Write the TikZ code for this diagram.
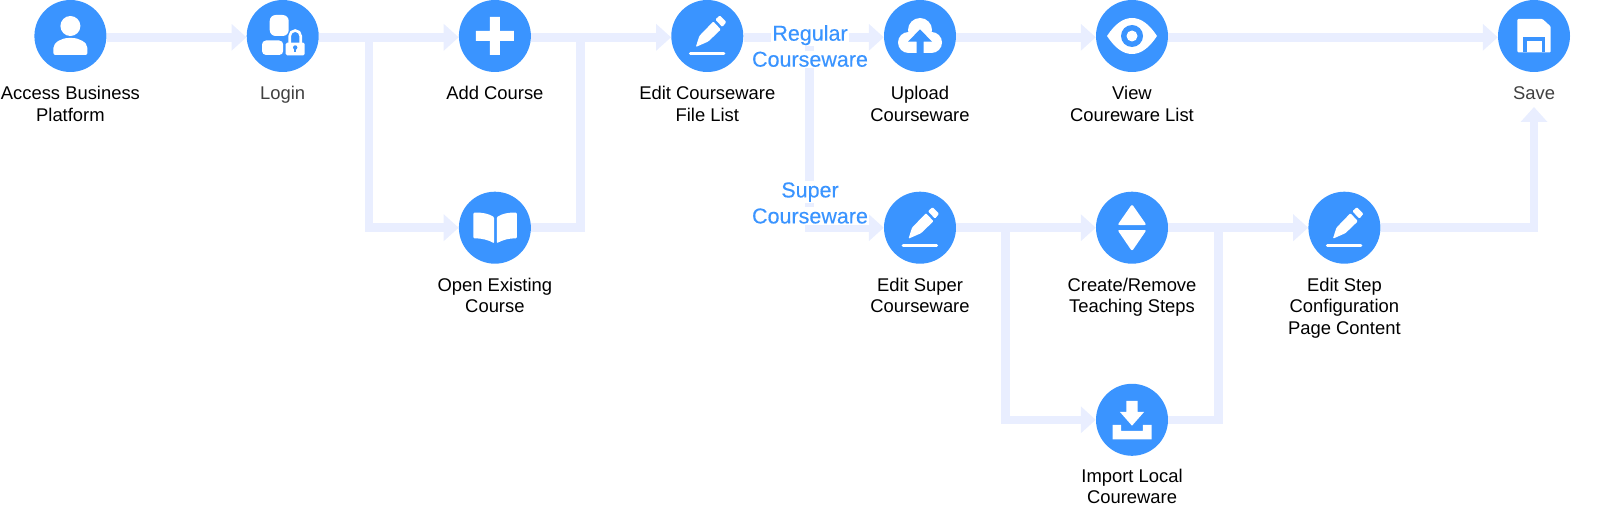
\documentclass[tikz,border=0pt]{standalone}
\usepackage{fontspec}
\setmainfont{Liberation Sans}
\newfontfamily\branchfont{Liberation Sans}[FakeBold=0.25]
\usetikzlibrary{arrows.meta, positioning}
\definecolor{stepblue}{HTML}{3A94FF}
\definecolor{flowblue}{HTML}{E9EEFF}
\setlength{\fboxsep}{1pt}
\newcommand{\whiteline}[1]{\colorbox{white}{#1}}

\begin{document}
\begin{tikzpicture}[x=1pt, y=-1pt,
        stepnode/.style={circle, fill=stepblue, minimum size=72pt, inner sep=0pt},
        steptext/.style={below=14pt of #1, align=center, inner sep=0pt, text=black,
            font=\fontsize{18.4}{21.4}\selectfont},
        branchtext/.style={align=center, inner sep=0pt, text=stepblue,
            font=\branchfont\fontsize{21.5}{26}\selectfont},
        flowline/.style={draw=flowblue, line width=8.5pt},
        flowarrow/.style={flowline, -{Triangle[length=15pt, width=26pt]}},
        pics/penicon/.style={code={
            \fill[white, rounded corners=1pt] (-11.5,11) -- (-8,0) -- (6,-14.5) -- (13.5,-6.5) -- (1,5.5) -- cycle;
            \fill[white, rounded corners=1pt] (8,-16.5) -- (12.5,-20.5) -- (19,-14) -- (15,-9) -- cycle;
            \draw[white, line width=3pt, line cap=round] (-17,17.8) -- (16.5,17.8);
        }}]
    \useasboundingbox (0,0) rectangle (1600,505);

    \node[stepnode] (user) at (70.4,36) {};
    \node[stepnode] (login) at (282.7,36) {};
    \node[stepnode] (add) at (494.9,36) {};
    \node[stepnode] (edit) at (707.3,36) {};
    \node[stepnode] (upload) at (920,36) {};
    \node[stepnode] (view) at (1132,36) {};
    \node[stepnode] (save) at (1534,36) {};
    \node[stepnode] (open) at (494.9,227.7) {};
    \node[stepnode] (super) at (920,227.7) {};
    \node[stepnode] (create) at (1132,227.7) {};
    \node[stepnode] (stepedit) at (1344.4,227.7) {};
    \node[stepnode] (import) at (1132,419.8) {};

    \node[steptext=user] (usertext) {Access Business\\Platform};
    \node[steptext=login, text=black!75] (logintext) {Login};
    \node[steptext=add] (addtext) {Add Course};
    \node[steptext=edit] (edittext) {Edit Courseware\\File List};
    \node[steptext=upload] (uploadtext) {Upload\\Courseware};
    \node[steptext=view] (viewtext) {View\\Coureware List};
    \node[steptext=save, text=black!75] (savetext) {Save};
    \node[steptext=open] (opentext) {Open Existing\\Course};
    \node[steptext=super] (supertext) {Edit Super\\Courseware};
    \node[steptext=create] (createtext) {Create/Remove\\Teaching Steps};
    \node[steptext=stepedit] (stepedittext) {Edit Step\\Configuration\\Page Content};
    \node[steptext=import, yshift=1pt] (importtext) {Import Local\\Coureware};

    \coordinate (jlogin) at (369,37.3);
    \coordinate (jadd) at (580.5,37.3);
    \coordinate (jedit) at (809.5,37.3);
    \coordinate (jsuper) at (1005.5,227.7);
    \coordinate (jcreate) at (1218.5,227.7);
    \coordinate (jsave) at (1534,107);

    \draw[flowarrow] ([yshift=-1.3pt]user.east) -- ([yshift=-1.3pt]login.west);
    \draw[flowarrow] ([yshift=-1.3pt]login.east) -- ([yshift=-1.3pt]add.west);
    \draw[flowarrow] (jlogin) |- (open);
    \draw[flowarrow] ([yshift=-1.3pt]add.east) -- ([yshift=-1.3pt]edit.west);
    \draw[flowline] (open) -| (jadd);
    \draw[flowarrow] ([yshift=-1.3pt]edit.east) -- ([yshift=-1.3pt]upload.west);
    \draw[flowarrow] (jedit) |- (super);
    \draw[flowarrow] ([yshift=-1.3pt]upload.east) -- ([yshift=-1.3pt]view.west);
    \draw[flowarrow] ([yshift=-1.3pt]view.east) -- ([yshift=-1.3pt]save.west);
    \draw[flowarrow] (super) -- (create);
    \draw[flowarrow] (jsuper) |- (import);
    \draw[flowarrow] (create) -- (stepedit);
    \draw[flowline] (import) -| (jcreate);
    \draw[flowarrow] (stepedit) -| (jsave);

    \node[branchtext] (regular) at (810,46) {\whiteline{Regular}\\\whiteline{Courseware}};
    \node[branchtext] (superware) at (810,203) {\whiteline{Super}\\\whiteline{Courseware}};

    % user
    \begin{scope}[shift={(user)}]
        \fill[white] (0,-10) circle[radius=10];
        \fill[white, rounded corners=2pt] (-17,19) -- (-17,14) .. controls (-17,6) and (-8,2) .. (0,2)
            .. controls (8,2) and (17,6) .. (17,14) -- (17,19) -- cycle;
    \end{scope}
    % login
    \begin{scope}[shift={(login)}]
        \fill[white, rounded corners=6pt] (-13,-21) rectangle (6,0);
        \fill[white, rounded corners=4pt] (-20.7,19) -- (-20.7,4.5) -- (0.5,4.5) -- (0.5,19) -- cycle;
        \draw[white, line width=2.6pt] (7,7) -- (7,0) arc[start angle=180, end angle=360, radius=5.5] -- (18,7);
        \fill[white, rounded corners=1.5pt] (3,6.6) rectangle (22,19.3);
        \fill[stepblue] (12.5,11.5) circle[radius=2.2];
        \fill[stepblue] (11.7,11.5) rectangle (13.3,16);
    \end{scope}
    % add
    \begin{scope}[shift={(add)}]
        \fill[white] (-19,-5) -- (-5,-5) -- (-5,-19) -- (5,-19) -- (5,-5) -- (19,-5) -- (19,5)
            -- (5,5) -- (5,19) -- (-5,19) -- (-5,5) -- (-19,5) -- cycle;
    \end{scope}
    \pic at (edit) {penicon};
    % upload
    \begin{scope}[shift={(upload)}]
        \fill[white] (0,-6) circle[radius=12];
        \fill[white] (-11.5,6.5) circle[radius=10.5];
        \fill[white] (11.5,6.5) circle[radius=10.5];
        \fill[white] (-11.5,-2) rectangle (11.5,17);
        \fill[stepblue] (0,-6.7) -- (12,5.7) -- (3.5,5.7) -- (3.5,17) -- (-3.5,17) -- (-3.5,5.7) -- (-12,5.7) -- cycle;
    \end{scope}
    % view
    \begin{scope}[shift={(view)}]
        \fill[white] (-25,0) .. controls (-17,-12) and (-9,-18) .. (0,-18)
            .. controls (9,-18) and (17,-12) .. (25,0)
            .. controls (17,12) and (9,18) .. (0,18)
            .. controls (-9,18) and (-17,12) .. (-25,0) -- cycle;
        \fill[stepblue] (0,0) circle[radius=11];
        \fill[white] (0,0) circle[radius=5.5];
    \end{scope}
    % save
    \begin{scope}[shift={(save)}]
        \fill[white, rounded corners=1pt] (-16.7,-17) -- (8.5,-17) -- (16.7,-9.5) -- (16.7,16.3) -- (-16.7,16.3) -- cycle;
        \fill[stepblue] (-10.7,1.3) rectangle (11,16.3);
        \fill[white] (-7.3,5.3) rectangle (7.7,16.3);
    \end{scope}
    % open
    \begin{scope}[shift={(open)}]
        \fill[white, rounded corners=1pt] (-21.5,-15) .. controls (-13,-15.5) and (-6,-14) .. (-0.8,-10.5)
            -- (-0.8,15.6) .. controls (-6,12.5) and (-13,10.5) .. (-21.5,10.6) -- cycle;
        \fill[white, rounded corners=1pt] (22,-15) .. controls (14,-15.5) and (7,-14) .. (1.9,-10.5)
            -- (1.9,15.6) .. controls (7,12.5) and (14,10.5) .. (22,10.6) -- cycle;
    \end{scope}
    \pic at (super) {penicon};
    % create
    \begin{scope}[shift={(create)}]
        \fill[white, rounded corners=2pt] (0,-23.5) -- (14.5,-2.7) -- (-14.5,-2.7) -- cycle;
        \fill[white, rounded corners=2pt] (0,23.5) -- (14.5,2.3) -- (-14.5,2.3) -- cycle;
    \end{scope}
    \pic at (stepedit) {penicon};
    % import
    \begin{scope}[shift={(import)}]
        \fill[white] (-5.7,-19) -- (5.7,-19) -- (5.7,-8) -- (12.2,-8) -- (0,5.9) -- (-12.2,-8) -- (-5.7,-8) -- cycle;
        \fill[white] (-19.5,5) -- (-10.8,5) -- (-10.8,11) -- (10.8,11) -- (10.8,5) -- (19.5,5)
            -- (19.5,19.5) -- (-19.5,19.5) -- cycle;
    \end{scope}
\end{tikzpicture}
\end{document}
